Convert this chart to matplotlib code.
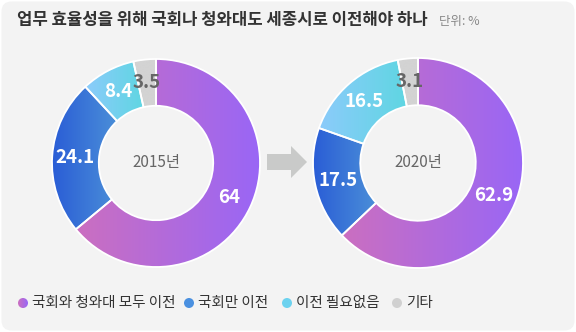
import numpy as np
import matplotlib
matplotlib.use('Agg')
import matplotlib.pyplot as plt
from matplotlib.colors import LinearSegmentedColormap
from matplotlib.patches import FancyBboxPatch, Polygon, Circle

plt.rcParams['font.family'] = ['Noto Sans CJK KR', 'DejaVu Sans']

title = "업무 효율성을 위해 국회나 청와대도 세종시로 이전해야 하나"
unit = "단위: %"
categories = ["국회와 청와대 모두 이전", "국회만 이전", "이전 필요없음", "기타"]
years = ["2015년", "2020년"]
values_2015 = [64, 24.1, 8.4, 3.5]
values_2020 = [62.9, 17.5, 16.5, 3.1]

# left/right colour of the horizontal gradient in each slice
gradients = [("#cb6fc0", "#9966f6"),
             ("#2a5dd6", "#4b8fd8"),
             ("#8ccbfb", "#5fd6e2"),
             ("#d3d3d3", "#d3d3d3")]
legend_colors = [None, "#4a90e0", "#6cd2ef", "#d0d0d0"]
label_colors = ["white", "white", "white", "#666666"]

W, H = 576, 332
fig = plt.figure(figsize=(W / 100, H / 100), dpi=100)
fig.patch.set_facecolor("white")

# full-figure overlay in pixel units for background, arrow, legend
bg = fig.add_axes([0, 0, 1, 1])
bg.set_xlim(0, W)
bg.set_ylim(H, 0)
bg.axis("off")
bg.add_patch(FancyBboxPatch((1.5, 1.5), W - 3, H - 3, boxstyle="round,pad=0,rounding_size=10",
                            fc="#f3f3f3", ec="none", zorder=0))


def grad_fill(ax, patch, c0, c1, extent, z):
    cmap = LinearSegmentedColormap.from_list("g", [c0, c1])
    img = ax.imshow(np.linspace(0, 1, 256).reshape(1, -1), cmap=cmap, aspect="auto",
                    extent=extent, interpolation="bilinear", zorder=z)
    img.set_clip_path(patch)


def donut(cx, cy, r, values, year):
    ax = fig.add_axes([(cx - r) / W, (H - cy - r) / H, 2 * r / W, 2 * r / H])
    wedges, _ = ax.pie(values, startangle=90, counterclock=False, radius=1,
                       wedgeprops=dict(width=0.45, edgecolor="white", linewidth=1.3))
    for i, (w, (c0, c1)) in enumerate(zip(wedges, gradients)):
        w.set_facecolor("none")
        w.set_zorder(3)
        ext = w.get_path().get_extents()
        grad_fill(ax, w, c0, c1, [ext.x0, ext.x1, ext.y0, ext.y1], 2)
        # value label at the middle of the slice
        mid = np.deg2rad((w.theta1 + w.theta2) / 2)
        rr = 0.78
        ax.text(rr * np.cos(mid), rr * np.sin(mid), f"{values[i]:g}", ha="center", va="center",
                color=label_colors[i], fontsize=13.5, fontweight="bold", zorder=5)
    ax.text(0, 0, year, ha="center", va="center", color="#666666", fontsize=11, zorder=5)
    ax.set_xlim(-1, 1)
    ax.set_ylim(-1, 1)
    ax.axis("off")
    return ax


donut(156, 163, 104, values_2015, years[0])
donut(418, 163, 105, values_2020, years[1])

# arrow between the two donuts
bg.add_patch(Polygon([(267, 154), (291, 154), (291, 146), (307, 162), (291, 178),
                      (291, 170), (267, 170)], closed=True, fc="#c9cac9", ec="none", zorder=2))

bg.text(17, 20, title, ha="left", va="center", fontsize=12.05, color="#333333", fontweight="bold")
bg.text(439, 21, unit, ha="left", va="center", fontsize=9, color="#888888")

# legend
leg_x = [23, 189, 287, 397]
leg_y = 303
for i, (lab, x) in enumerate(zip(categories, leg_x)):
    if legend_colors[i] is None:
        dot = Circle((x, leg_y), 5, fc="none", ec="none", zorder=3)
        bg.add_patch(dot)
        cmap = LinearSegmentedColormap.from_list("d", list(gradients[0]))
        img = bg.imshow(np.linspace(0, 1, 32).reshape(1, -1), cmap=cmap, aspect="auto",
                        extent=[x - 5, x + 5, leg_y + 5, leg_y - 5], interpolation="bilinear",
                        zorder=2)
        img.set_clip_path(dot)
    else:
        bg.add_patch(Circle((x, leg_y), 5, fc=legend_colors[i], ec="none", zorder=2))
    bg.text(x + 9, leg_y, lab, ha="left", va="center", fontsize=10.5, color="#333333")

bg.set_xlim(0, W)
bg.set_ylim(H, 0)

fig.savefig("out.png", dpi=100, facecolor=fig.get_facecolor())
